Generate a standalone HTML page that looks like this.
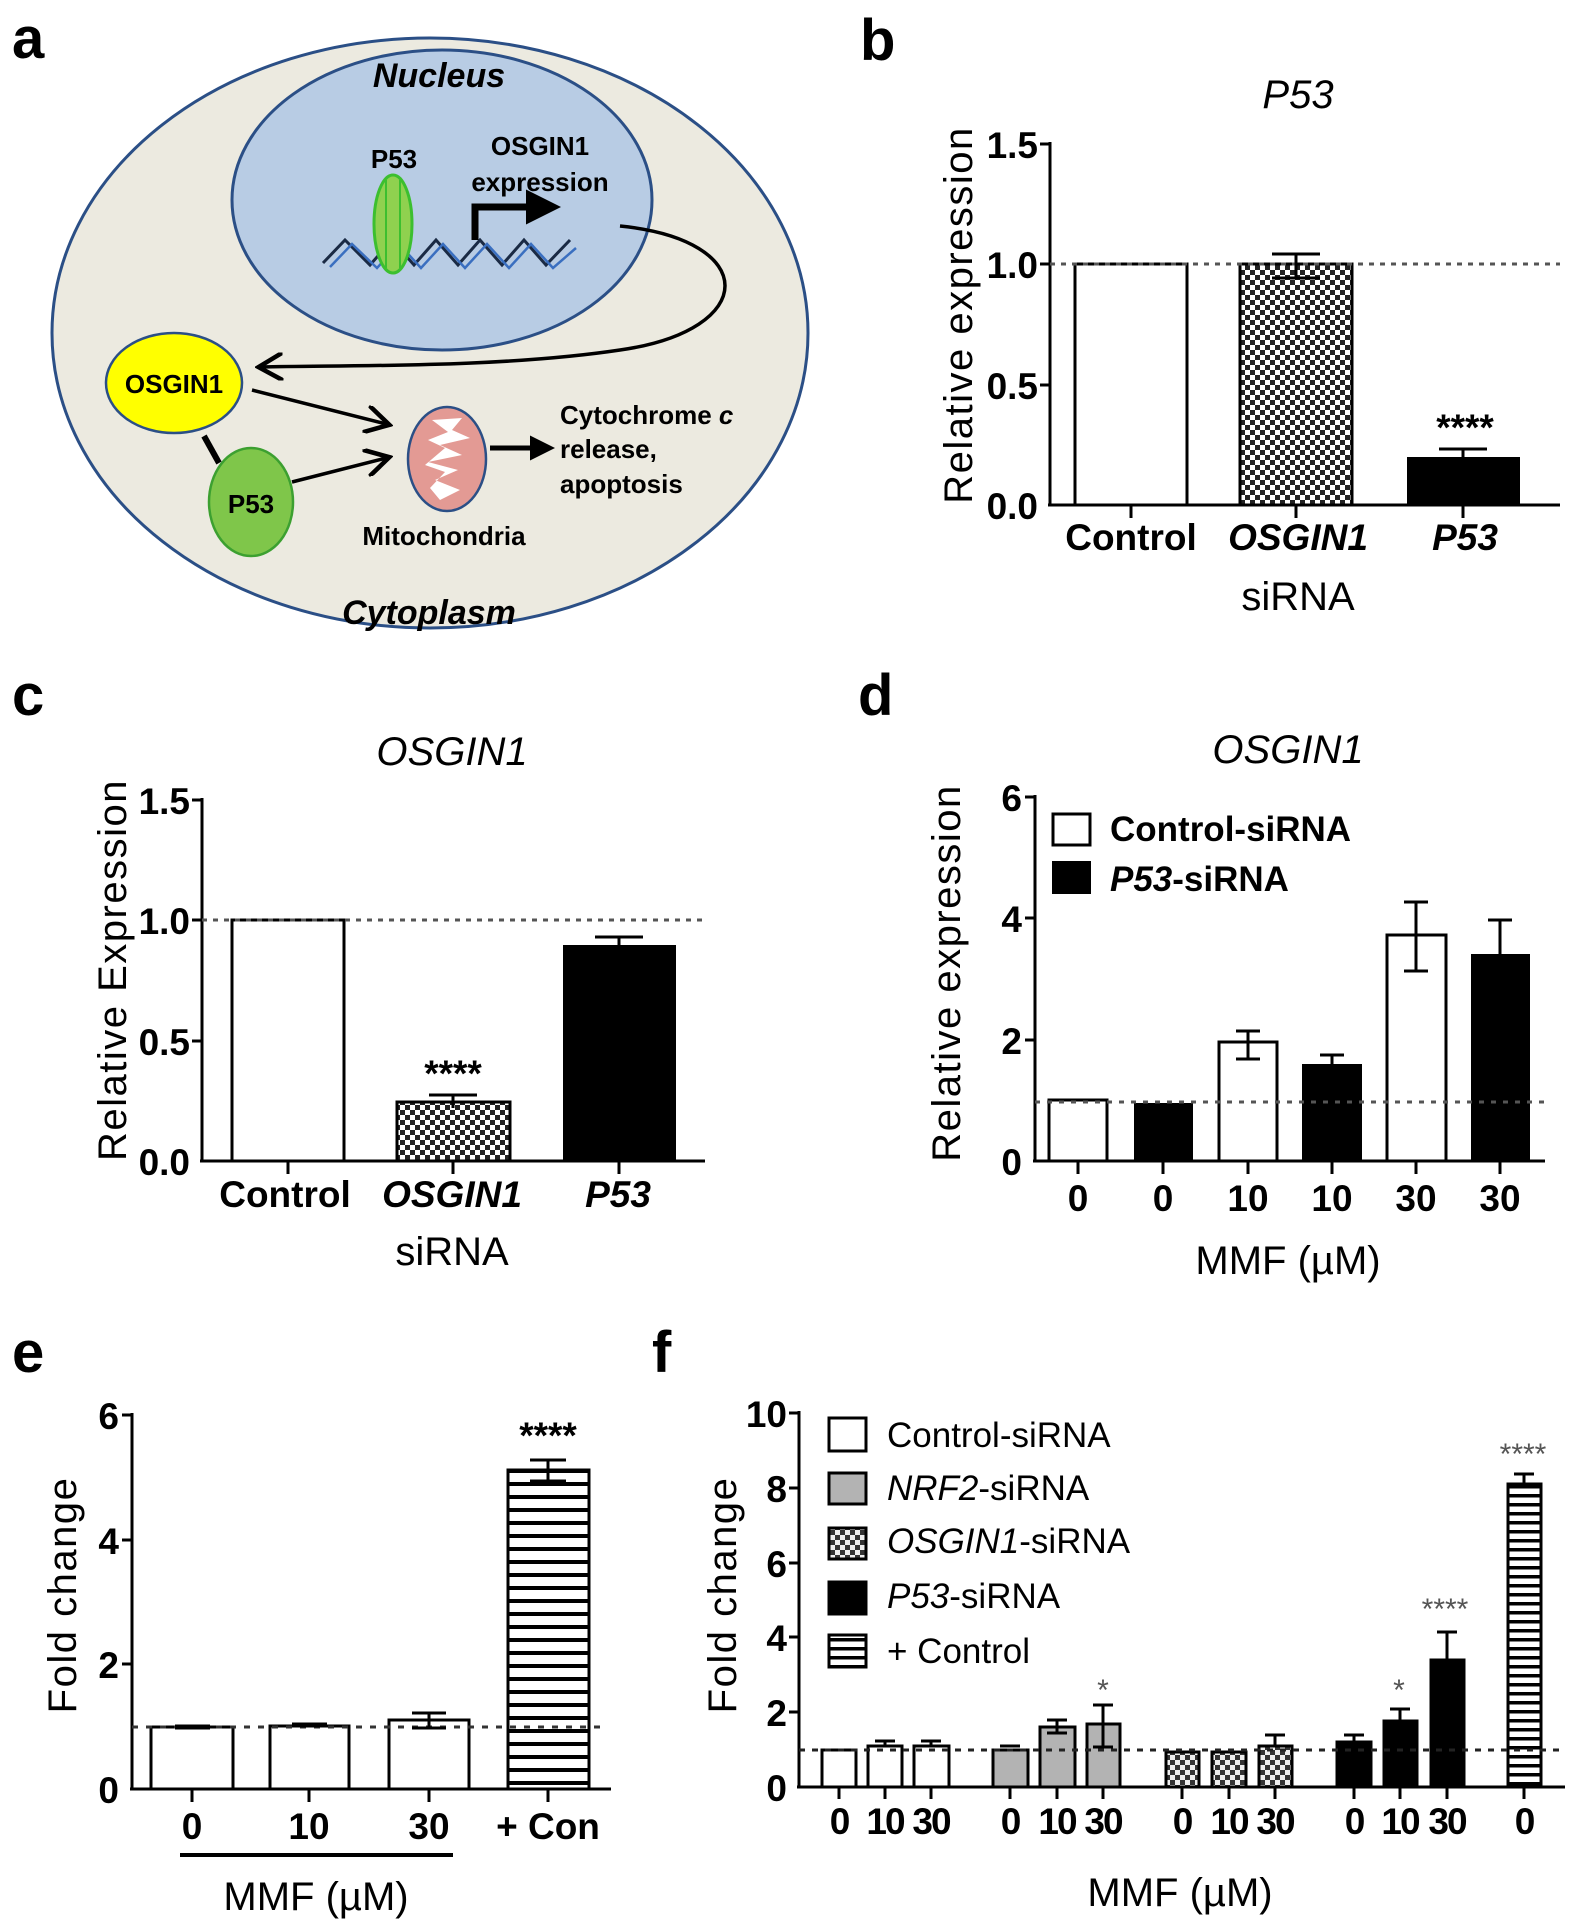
<!DOCTYPE html>
<html><head><meta charset="utf-8"><style>
html,body{margin:0;padding:0;background:#fff}
svg{display:block}
text{font-family:"Liberation Sans",Arial,sans-serif}
.t{font-size:37px;font-weight:bold}
.ax{font-size:40px;letter-spacing:1.5px}
.ttl{font-size:40px;font-style:italic}
.pl{font-size:58px;font-weight:bold}
.dg{font-size:26px;font-weight:bold}
</style></head><body>
<svg width="1575" height="1931" viewBox="0 0 1575 1931" xmlns="http://www.w3.org/2000/svg">
<defs>
<pattern id="chk" width="10" height="10" patternUnits="userSpaceOnUse">
<rect width="10" height="10" fill="#fff"/><rect width="5" height="5" fill="#222"/><rect x="5" y="5" width="5" height="5" fill="#222"/>
</pattern>
<pattern id="chk2" width="10" height="10" patternUnits="userSpaceOnUse">
<rect width="10" height="10" fill="#eee"/><rect width="5" height="5" fill="#333"/><rect x="5" y="5" width="5" height="5" fill="#333"/>
</pattern>
<pattern id="str" width="10" height="13" patternUnits="userSpaceOnUse">
<rect width="10" height="13" fill="#fff"/><rect y="0" width="10" height="4" fill="#000"/>
</pattern>
<pattern id="str2" width="10" height="9" patternUnits="userSpaceOnUse">
<rect width="10" height="9" fill="#fff"/><rect y="0" width="10" height="3.5" fill="#000"/>
</pattern>
<marker id="ah" markerWidth="8" markerHeight="8" refX="6" refY="4" orient="auto" markerUnits="strokeWidth">
<path d="M0,0 L7,4 L0,8" fill="none" stroke="#000" stroke-width="1.3"/>
</marker>
<marker id="ahf" markerWidth="5" markerHeight="5" refX="2" refY="2.5" orient="auto" markerUnits="strokeWidth">
<path d="M0,0 L5,2.5 L0,5Z" fill="#000"/>
</marker>
</defs>

<!-- Panel a -->
<text class="pl" x="12" y="58">a</text>
<ellipse cx="430" cy="333" rx="378" ry="295" fill="#eceae0" stroke="#2b4f86" stroke-width="3"/>
<ellipse cx="442" cy="200" rx="210" ry="150" fill="#b8cce4" stroke="#2b4f86" stroke-width="3"/>
<text x="439" y="87" text-anchor="middle" style="font-size:34px;font-weight:bold;font-style:italic">Nucleus</text>
<text class="dg" x="394" y="168" text-anchor="middle">P53</text>
<text class="dg" x="540" y="155" text-anchor="middle">OSGIN1</text>
<text class="dg" x="540" y="191" text-anchor="middle">expression</text>
<path d="M323,263 L345,240 L370,265 L392,240 L414,265 L436,240 L458,265 L480,240 L502,265 L524,240 L546,265 L570,240" fill="none" stroke="#1a2a44" stroke-width="3"/>
<path d="M330,267 L352,244 L377,268 L399,244 L421,268 L443,244 L465,268 L487,244 L509,268 L531,244 L553,268 L576,248" fill="none" stroke="#3a6fc0" stroke-width="2.5"/>
<ellipse cx="393" cy="224" rx="19" ry="49" fill="#8fd14f" stroke="#3cbf2f" stroke-width="3"/>
<line x1="386" y1="180" x2="386" y2="268" stroke="#3cbf2f" stroke-width="2"/>
<line x1="400" y1="180" x2="400" y2="268" stroke="#3cbf2f" stroke-width="2"/>
<path d="M475,240 L475,207 L540,207" fill="none" stroke="#000" stroke-width="7" marker-end="url(#ahf)"/>
<path d="M620,226 C760,240 760,330 620,350 C500,368 350,365 262,367" fill="none" stroke="#000" stroke-width="3.5" marker-end="url(#ah)"/>
<ellipse cx="174" cy="383" rx="68" ry="50" fill="#ffff00" stroke="#2b4f86" stroke-width="2.5"/>
<text class="dg" x="174" y="393" text-anchor="middle">OSGIN1</text>
<ellipse cx="251" cy="502" rx="42" ry="54" fill="#7fc64a" stroke="#3ca030" stroke-width="2.5"/>
<text class="dg" x="251" y="513" text-anchor="middle">P53</text>
<line x1="204" y1="436" x2="219" y2="463" stroke="#000" stroke-width="6"/>
<ellipse cx="447" cy="459" rx="39" ry="52" fill="#e39a94" stroke="#2b4f86" stroke-width="2.5"/>
<path d="M432,420 L462,418 L452,430 L470,438 L440,445 L462,455 L428,462 L458,470 L435,480 L460,490 L440,500 L430,488 L445,472 L425,465 L445,448 L428,440 L448,432Z" fill="#fff"/>
<line x1="252" y1="390" x2="386" y2="424" stroke="#000" stroke-width="3.5" marker-end="url(#ah)"/>
<line x1="292" y1="482" x2="386" y2="458" stroke="#000" stroke-width="3.5" marker-end="url(#ah)"/>
<line x1="490" y1="448" x2="540" y2="448" stroke="#000" stroke-width="5" marker-end="url(#ahf)"/>
<text class="dg" x="560" y="424">Cytochrome <tspan font-style="italic">c</tspan></text>
<text class="dg" x="560" y="458">release,</text>
<text class="dg" x="560" y="493">apoptosis</text>
<text class="dg" x="444" y="545" text-anchor="middle">Mitochondria</text>
<text x="429" y="624" text-anchor="middle" style="font-size:34px;font-weight:bold;font-style:italic">Cytoplasm</text>

<!-- Panel b -->
<text class="pl" x="860" y="60">b</text>
<text class="ttl" x="1298" y="108" text-anchor="middle">P53</text>
<text class="ax" transform="translate(972,315) rotate(-90)" text-anchor="middle">Relative expression</text>
<g stroke="#000" stroke-width="3">
<line x1="1050" y1="142" x2="1050" y2="506"/>
<line x1="1040" y1="144" x2="1050" y2="144"/><line x1="1040" y1="264" x2="1050" y2="264"/><line x1="1040" y1="385" x2="1050" y2="385"/>
<line x1="1048" y1="505" x2="1560" y2="505"/>
<line x1="1131" y1="505" x2="1131" y2="518"/><line x1="1296" y1="505" x2="1296" y2="518"/><line x1="1463" y1="505" x2="1463" y2="518"/>
</g>
<g class="t" text-anchor="end"><text x="1038" y="158">1.5</text><text x="1038" y="278">1.0</text><text x="1038" y="399">0.5</text><text x="1038" y="519">0.0</text></g>
<rect x="1075" y="264" width="112" height="241" fill="#fff" stroke="#000" stroke-width="3"/>
<rect x="1240" y="264" width="112" height="241" fill="url(#chk)" stroke="#000" stroke-width="3"/>
<rect x="1407" y="457" width="113" height="48" fill="#000"/>
<line x1="1050" y1="264" x2="1560" y2="264" stroke="#555" stroke-width="3" stroke-dasharray="5,6"/>
<g stroke="#000" stroke-width="3"><line x1="1296" y1="254" x2="1296" y2="278"/><line x1="1272" y1="254" x2="1320" y2="254"/><line x1="1272" y1="278" x2="1320" y2="278"/>
<line x1="1463" y1="449" x2="1463" y2="458"/><line x1="1439" y1="449" x2="1487" y2="449"/></g>
<text class="t" x="1465" y="440" text-anchor="middle">****</text>
<g class="t" text-anchor="middle"><text x="1131" y="550">Control</text><text x="1298" y="550" font-style="italic">OSGIN1</text><text x="1465" y="550" font-style="italic">P53</text></g>
<text x="1298" y="610" text-anchor="middle" style="font-size:40px">siRNA</text>

<!-- Panel c -->
<text class="pl" x="12" y="715">c</text>
<text class="ax" x="452" y="765" text-anchor="middle" style="font-style:italic;letter-spacing:0">OSGIN1</text>
<text class="ax" transform="translate(126,970) rotate(-90)" text-anchor="middle">Relative Expression</text>
<g stroke="#000" stroke-width="3">
<line x1="202" y1="798" x2="202" y2="1162"/>
<line x1="192" y1="800" x2="202" y2="800"/><line x1="192" y1="920" x2="202" y2="920"/><line x1="192" y1="1041" x2="202" y2="1041"/>
<line x1="200" y1="1161" x2="705" y2="1161"/>
<line x1="288" y1="1161" x2="288" y2="1174"/><line x1="453" y1="1161" x2="453" y2="1174"/><line x1="619" y1="1161" x2="619" y2="1174"/>
</g>
<g class="t" text-anchor="end"><text x="190" y="814">1.5</text><text x="190" y="934">1.0</text><text x="190" y="1055">0.5</text><text x="190" y="1175">0.0</text></g>
<rect x="232" y="920" width="112" height="241" fill="#fff" stroke="#000" stroke-width="3"/>
<rect x="397" y="1102" width="113" height="59" fill="url(#chk)" stroke="#000" stroke-width="3"/>
<rect x="563" y="945" width="113" height="216" fill="#000"/>
<line x1="202" y1="920" x2="704" y2="920" stroke="#555" stroke-width="3" stroke-dasharray="5,6"/>
<g stroke="#000" stroke-width="3"><line x1="453" y1="1095" x2="453" y2="1108"/><line x1="429" y1="1095" x2="477" y2="1095"/>
<line x1="619" y1="937" x2="619" y2="946"/><line x1="595" y1="937" x2="643" y2="937"/></g>
<text class="t" x="453" y="1086" text-anchor="middle">****</text>
<g class="t" text-anchor="middle"><text x="285" y="1207">Control</text><text x="452" y="1207" font-style="italic">OSGIN1</text><text x="618" y="1207" font-style="italic">P53</text></g>
<text x="452" y="1265" text-anchor="middle" style="font-size:40px">siRNA</text>

<!-- Panel d -->
<text class="pl" x="858" y="715">d</text>
<text class="ttl" x="1288" y="763" text-anchor="middle">OSGIN1</text>
<text class="ax" transform="translate(960,973) rotate(-90)" text-anchor="middle">Relative expression</text>
<g stroke="#000" stroke-width="3">
<line x1="1035" y1="795" x2="1035" y2="1162"/>
<line x1="1025" y1="797" x2="1035" y2="797"/><line x1="1025" y1="918" x2="1035" y2="918"/><line x1="1025" y1="1040" x2="1035" y2="1040"/>
<line x1="1033" y1="1161" x2="1545" y2="1161"/>
<line x1="1078" y1="1161" x2="1078" y2="1174"/><line x1="1163" y1="1161" x2="1163" y2="1174"/><line x1="1248" y1="1161" x2="1248" y2="1174"/><line x1="1332" y1="1161" x2="1332" y2="1174"/><line x1="1416" y1="1161" x2="1416" y2="1174"/><line x1="1500" y1="1161" x2="1500" y2="1174"/>
</g>
<g class="t" text-anchor="end"><text x="1022" y="811">6</text><text x="1022" y="932">4</text><text x="1022" y="1054">2</text><text x="1022" y="1175">0</text></g>
<rect x="1049" y="1100" width="58" height="61" fill="#fff" stroke="#000" stroke-width="3"/>
<rect x="1134" y="1103" width="59" height="58" fill="#000"/>
<rect x="1219" y="1042" width="58" height="119" fill="#fff" stroke="#000" stroke-width="3"/>
<rect x="1302" y="1064" width="60" height="97" fill="#000"/>
<rect x="1387" y="935" width="59" height="226" fill="#fff" stroke="#000" stroke-width="3"/>
<rect x="1471" y="954" width="59" height="207" fill="#000"/>
<line x1="1035" y1="1102" x2="1545" y2="1102" stroke="#555" stroke-width="3" stroke-dasharray="5,7"/>
<g stroke="#000" stroke-width="3">
<line x1="1248" y1="1031" x2="1248" y2="1059"/><line x1="1236" y1="1031" x2="1260" y2="1031"/><line x1="1236" y1="1059" x2="1260" y2="1059"/>
<line x1="1332" y1="1055" x2="1332" y2="1065"/><line x1="1320" y1="1055" x2="1344" y2="1055"/>
<line x1="1416" y1="902" x2="1416" y2="971"/><line x1="1404" y1="902" x2="1428" y2="902"/><line x1="1404" y1="971" x2="1428" y2="971"/>
<line x1="1500" y1="920" x2="1500" y2="955"/><line x1="1488" y1="920" x2="1512" y2="920"/>
</g>
<rect x="1053" y="814" width="37" height="31" fill="#fff" stroke="#000" stroke-width="3"/>
<rect x="1052" y="861" width="39" height="33" fill="#000"/>
<text class="t" x="1110" y="841" style="font-size:35px">Control-siRNA</text>
<text class="t" x="1110" y="891" style="font-size:35px"><tspan font-style="italic">P53</tspan>-siRNA</text>
<g class="t" text-anchor="middle"><text x="1078" y="1211">0</text><text x="1163" y="1211">0</text><text x="1248" y="1211">10</text><text x="1332" y="1211">10</text><text x="1416" y="1211">30</text><text x="1500" y="1211">30</text></g>
<text x="1288" y="1274" text-anchor="middle" style="font-size:40px">MMF (µM)</text>

<!-- Panel e -->
<text class="pl" x="12" y="1372">e</text>
<text class="ax" transform="translate(76,1595) rotate(-90)" text-anchor="middle">Fold change</text>
<g stroke="#000" stroke-width="3">
<line x1="132" y1="1413" x2="132" y2="1790"/>
<line x1="122" y1="1415" x2="132" y2="1415"/><line x1="122" y1="1540" x2="132" y2="1540"/><line x1="122" y1="1664" x2="132" y2="1664"/>
<line x1="130" y1="1789" x2="611" y2="1789"/>
<line x1="192" y1="1789" x2="192" y2="1802"/><line x1="309" y1="1789" x2="309" y2="1802"/><line x1="429" y1="1789" x2="429" y2="1802"/><line x1="548" y1="1789" x2="548" y2="1802"/>
</g>
<g class="t" text-anchor="end"><text x="119" y="1429">6</text><text x="119" y="1554">4</text><text x="119" y="1678">2</text><text x="119" y="1803">0</text></g>
<rect x="151" y="1727" width="82" height="62" fill="#fff" stroke="#000" stroke-width="3"/>
<rect x="270" y="1726" width="79" height="63" fill="#fff" stroke="#000" stroke-width="3"/>
<rect x="389" y="1720" width="80" height="69" fill="#fff" stroke="#000" stroke-width="3"/>
<rect x="508" y="1470" width="81" height="319" fill="url(#str)" stroke="#000" stroke-width="3"/>
<line x1="132" y1="1727" x2="606" y2="1727" stroke="#333" stroke-width="3" stroke-dasharray="6,8"/>
<g stroke="#000" stroke-width="3">
<line x1="175" y1="1727" x2="210" y2="1727" stroke-width="5"/><line x1="292" y1="1725" x2="327" y2="1725" stroke-width="5"/>
<line x1="429" y1="1713" x2="429" y2="1728"/><line x1="412" y1="1713" x2="446" y2="1713"/><line x1="412" y1="1728" x2="446" y2="1728"/>
<line x1="548" y1="1460" x2="548" y2="1481"/><line x1="530" y1="1460" x2="566" y2="1460"/><line x1="530" y1="1481" x2="566" y2="1481"/>
</g>
<text class="t" x="548" y="1448" text-anchor="middle">****</text>
<g class="t" text-anchor="middle"><text x="192" y="1839">0</text><text x="309" y="1839">10</text><text x="429" y="1839">30</text><text x="548" y="1839">+ Con</text></g>
<line x1="180" y1="1855" x2="453" y2="1855" stroke="#000" stroke-width="4"/>
<text x="316" y="1910" text-anchor="middle" style="font-size:40px">MMF (µM)</text>

<!-- Panel f -->
<text class="pl" x="652" y="1372">f</text>
<text class="ax" transform="translate(736,1595) rotate(-90)" text-anchor="middle">Fold change</text>
<g stroke="#000" stroke-width="3">
<line x1="799" y1="1411" x2="799" y2="1788"/>
<line x1="789" y1="1413" x2="799" y2="1413"/><line x1="789" y1="1488" x2="799" y2="1488"/><line x1="789" y1="1563" x2="799" y2="1563"/><line x1="789" y1="1637" x2="799" y2="1637"/><line x1="789" y1="1712" x2="799" y2="1712"/>
<line x1="797" y1="1787" x2="1565" y2="1787"/>
<line x1="839" y1="1787" x2="839" y2="1799"/><line x1="885" y1="1787" x2="885" y2="1799"/><line x1="931" y1="1787" x2="931" y2="1799"/>
<line x1="1010" y1="1787" x2="1010" y2="1799"/><line x1="1057" y1="1787" x2="1057" y2="1799"/><line x1="1103" y1="1787" x2="1103" y2="1799"/>
<line x1="1182" y1="1787" x2="1182" y2="1799"/><line x1="1229" y1="1787" x2="1229" y2="1799"/><line x1="1275" y1="1787" x2="1275" y2="1799"/>
<line x1="1354" y1="1787" x2="1354" y2="1799"/><line x1="1400" y1="1787" x2="1400" y2="1799"/><line x1="1447" y1="1787" x2="1447" y2="1799"/>
<line x1="1524" y1="1787" x2="1524" y2="1799"/>
</g>
<g class="t" text-anchor="end"><text x="787" y="1427">10</text><text x="787" y="1502">8</text><text x="787" y="1577">6</text><text x="787" y="1651">4</text><text x="787" y="1726">2</text><text x="787" y="1801">0</text></g>
<g stroke="#000" stroke-width="3">
<rect x="822" y="1750" width="34" height="37" fill="#fff"/>
<rect x="868" y="1746" width="34" height="41" fill="#fff"/>
<rect x="914" y="1746" width="35" height="41" fill="#fff"/>
<rect x="993" y="1750" width="35" height="37" fill="#b3b3b3"/>
<rect x="1040" y="1727" width="35" height="60" fill="#b3b3b3"/>
<rect x="1087" y="1724" width="33" height="63" fill="#b3b3b3"/>
<rect x="1166" y="1752" width="33" height="35" fill="url(#chk2)"/>
<rect x="1212" y="1752" width="34" height="35" fill="url(#chk2)"/>
<rect x="1259" y="1746" width="33" height="41" fill="url(#chk2)"/>
<rect x="1337" y="1742" width="34" height="45" fill="#000"/>
<rect x="1384" y="1721" width="33" height="66" fill="#000"/>
<rect x="1431" y="1660" width="33" height="127" fill="#000"/>
<rect x="1508" y="1484" width="33" height="303" fill="url(#str2)"/>
</g>
<line x1="799" y1="1750" x2="1560" y2="1750" stroke="#222" stroke-width="3" stroke-dasharray="6,7"/>
<g stroke="#000" stroke-width="3">
<line x1="875" y1="1741" x2="895" y2="1741"/><line x1="885" y1="1741" x2="885" y2="1747"/>
<line x1="921" y1="1741" x2="941" y2="1741"/><line x1="931" y1="1741" x2="931" y2="1747"/>
<line x1="1000" y1="1746" x2="1020" y2="1746"/>
<line x1="1057" y1="1720" x2="1057" y2="1733"/><line x1="1047" y1="1720" x2="1067" y2="1720"/><line x1="1047" y1="1733" x2="1067" y2="1733"/>
<line x1="1103" y1="1705" x2="1103" y2="1747"/><line x1="1093" y1="1705" x2="1113" y2="1705"/><line x1="1093" y1="1747" x2="1113" y2="1747"/>
<line x1="1275" y1="1735" x2="1275" y2="1747"/><line x1="1265" y1="1735" x2="1285" y2="1735"/>
<line x1="1354" y1="1735" x2="1354" y2="1743"/><line x1="1344" y1="1735" x2="1364" y2="1735"/>
<line x1="1400" y1="1709" x2="1400" y2="1722"/><line x1="1390" y1="1709" x2="1410" y2="1709"/>
<line x1="1447" y1="1632" x2="1447" y2="1661"/><line x1="1437" y1="1632" x2="1457" y2="1632"/>
<line x1="1524" y1="1474" x2="1524" y2="1485"/><line x1="1514" y1="1474" x2="1534" y2="1474"/>
</g>
<g fill="#555" style="font-size:30px" text-anchor="middle">
<text x="1103" y="1700">*</text><text x="1399" y="1700">*</text><text x="1445" y="1619">****</text><text x="1523" y="1464">****</text>
</g>
<g stroke="#000" stroke-width="3">
<rect x="829" y="1418" width="37" height="33" fill="#fff"/>
<rect x="829" y="1473" width="37" height="31" fill="#b3b3b3"/>
<rect x="829" y="1528" width="37" height="31" fill="url(#chk2)"/>
<rect x="829" y="1582" width="37" height="32" fill="#000"/>
<rect x="829" y="1635" width="37" height="32" fill="url(#str2)"/>
</g>
<g style="font-size:35px">
<text x="887" y="1447">Control-siRNA</text>
<text x="887" y="1500"><tspan font-style="italic">NRF2</tspan>-siRNA</text>
<text x="887" y="1553"><tspan font-style="italic">OSGIN1</tspan>-siRNA</text>
<text x="887" y="1608"><tspan font-style="italic">P53</tspan>-siRNA</text>
<text x="887" y="1663">+ Control</text>
</g>
<g class="t" text-anchor="middle" style="letter-spacing:-2px">
<text x="839" y="1834">0</text><text x="885" y="1834">10</text><text x="931" y="1834">30</text>
<text x="1010" y="1834">0</text><text x="1057" y="1834">10</text><text x="1103" y="1834">30</text>
<text x="1182" y="1834">0</text><text x="1229" y="1834">10</text><text x="1275" y="1834">30</text>
<text x="1354" y="1834">0</text><text x="1400" y="1834">10</text><text x="1447" y="1834">30</text>
<text x="1524" y="1834">0</text>
</g>
<text x="1180" y="1906" text-anchor="middle" style="font-size:40px">MMF (µM)</text>
</svg>
</body></html>
